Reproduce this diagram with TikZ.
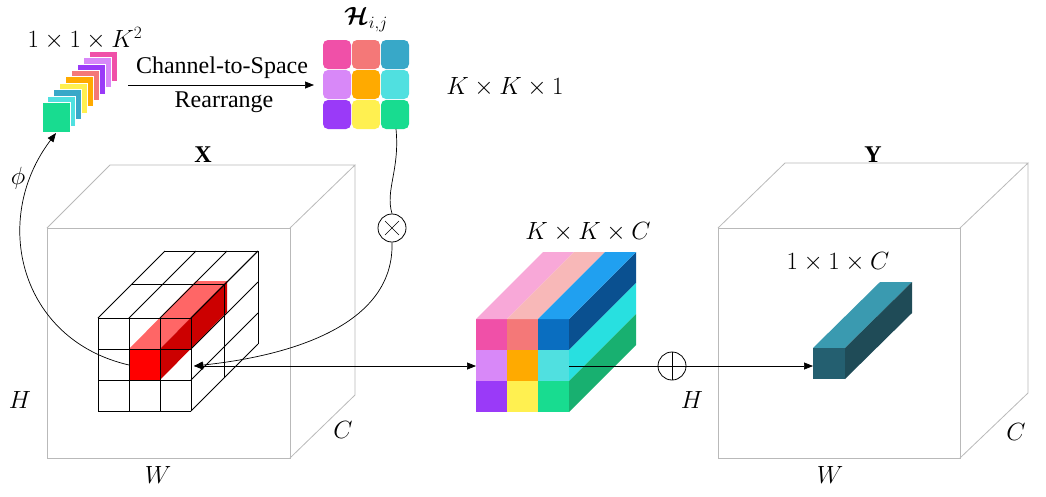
\documentclass[tikz,border=0pt]{standalone}
\usepackage{fontspec}
\setmainfont{Liberation Serif}
\usepackage{amsmath,amssymb,bm}
\usetikzlibrary{arrows.meta,calc}
\begin{document}
\begin{tikzpicture}[x=1pt,y=-1pt,
  cubeline/.style={draw=gray!55,line width=0.8pt},
  gridline/.style={draw=black,line width=0.9pt},
  lbl/.style={font=\fontsize{24}{28}\selectfont,inner sep=0pt},
  conn/.style={draw=black,line width=0.7pt},
  arr/.style={conn,-{Triangle[length=9pt,width=7pt]}},
  op/.style={circle,draw,line width=0.8pt,minimum size=28pt,inner sep=0pt}]
\useasboundingbox (0,0) rectangle (1046,496);
% colours
\definecolor{cpink}{HTML}{F050A8}\definecolor{csalmon}{HTML}{F47878}
\definecolor{cteal}{HTML}{38A8C8}\definecolor{clilac}{HTML}{D888F8}
\definecolor{corange}{HTML}{FFAA00}\definecolor{ccyan}{HTML}{50E0E0}
\definecolor{cpurple}{HTML}{9A3AF8}\definecolor{cyellow}{HTML}{FFF050}
\definecolor{cgreen}{HTML}{18DC90}
\definecolor{kblue}{HTML}{0A6EC0}\definecolor{kside1}{HTML}{0A5090}
\definecolor{kside2}{HTML}{28E0E0}\definecolor{kside3}{HTML}{18B070}
\definecolor{ktop1}{HTML}{F8A8D8}\definecolor{ktop2}{HTML}{F8B8B8}
\definecolor{ktop3}{HTML}{20A0F0}
\definecolor{bfront}{HTML}{245F70}\definecolor{btop}{HTML}{3A9AB0}
\definecolor{bside}{HTML}{1F4B57}
% ---- big cube X
\draw[cubeline] (47,228) rectangle (290,458);
\draw[cubeline] (47,228)--(110,165)--(355,165)--(290,228) (355,165)--(355,395)--(290,458);
\node[lbl] (X) at (203,155) {$\mathbf{X}$};
\node[lbl] at (20,400) {$H$};
\node[lbl] at (158,475) {$W$};
\node[lbl] at (343,430) {$C$};
% ---- big cube Y
\draw[cubeline] (718,228) rectangle (960,458);
\draw[cubeline] (718,228)--(785,163)--(1028,163)--(960,228) (1028,163)--(1028,393)--(960,458);
\node[lbl] (Y) at (873,155) {$\mathbf{Y}$};
\node[lbl] at (692,400) {$H$};
\node[lbl] at (830,475) {$W$};
\node[lbl] at (1016,432) {$C$};
% ---- red bar
\fill[red!60!white] (129,349)--(196,281)--(227,281)--(160,349)--cycle;
\fill[red!80!black] (160,349)--(227,281)--(227,312)--(160,380)--cycle;
\fill[red] (129,349) rectangle (160,380);
% ---- grid
\foreach \i in {0,1,2,3}{
  \draw[gridline] (98+31*\i,318)--(165+31*\i,251);
  \draw[gridline] (191,318+31*\i)--(258,251+31*\i);
  \draw[gridline] (98+31*\i,318)--(98+31*\i,411);
  \draw[gridline] (98,318+31*\i)--(191,318+31*\i);
}
\foreach \d in {1,2}{
  \draw[gridline] (98+33.5*\d,318-33.5*\d)--(191+33.5*\d,318-33.5*\d)--(191+33.5*\d,411-33.5*\d);
}
\coordinate (gx) at (194,366);
% ---- kernel cube
\def\kx{476}\def\ky{319}
\foreach \r/\cola/\colb/\colc/\side in {0/cpink/csalmon/kblue/kside1,1/clilac/corange/ccyan/kside2,2/cpurple/cyellow/cgreen/kside3}{
  \fill[\side] (569,\ky+31*\r)--(636,\ky+31*\r-67)--(636,\ky+31*\r-36)--(569,\ky+31*\r+31)--cycle;
  \fill[\cola] (\kx,\ky+31*\r) rectangle ++(31,31);
  \fill[\colb] (\kx+31,\ky+31*\r) rectangle ++(31,31);
  \fill[\colc] (\kx+62,\ky+31*\r) rectangle ++(31,31);
}
\fill[ktop1] (476,319)--(543,252)--(574,252)--(507,319)--cycle;
\fill[ktop2] (507,319)--(574,252)--(605,252)--(538,319)--cycle;
\fill[ktop3] (538,319)--(605,252)--(636,252)--(569,319)--cycle;
\node[lbl] (kkc) at (588,232) {$K\times K\times C$};
\coordinate (kin) at (476,366);
\coordinate (kout) at (569,366);
% ---- small bar in Y
\fill[btop] (813,348)--(880,282)--(912,282)--(845,348)--cycle;
\fill[bside] (845,348)--(912,282)--(912,313)--(845,379)--cycle;
\fill[bfront] (813,348) rectangle (845,379);
\coordinate (bar) at (813,366);
\node[lbl] at (838,262) {$1\times1\times C$};
% ---- oplus
\node[op] (plus) at (672,366) {};
\draw (plus.north)--(plus.south) (plus.west)--(plus.east);
\draw[conn] (kout)--(plus.west);
\draw[arr] (plus.east)--(bar);
\draw[conn,{Triangle[length=9pt,width=7pt]}-{Triangle[length=9pt,width=7pt]}] (gx)--(kin);
% ---- stack
\foreach \c [count=\n from 0] in {cpink,clilac,cpurple,csalmon,corange,cyellow,cteal,ccyan,cgreen}{
  \fill[\c,draw=white,line width=0.6pt] (89-5.9*\n,51+6.4*\n) rectangle ++(28,30);
}
\coordinate (stk) at (56,133);
\node[lbl] at (85,38) {$1\times1\times K^2$};
% ---- H grid
\foreach \c [count=\n from 0] in {cpink,csalmon,cteal,clilac,corange,ccyan,cpurple,cyellow,cgreen}{
  \pgfmathtruncatemacro{\cc}{mod(\n,3)}\pgfmathtruncatemacro{\rr}{div(\n,3)}
  \fill[\c,rounded corners=5pt] (323+29*\cc,40+30*\rr) rectangle ++(28,29);
}
\node[lbl] (Hij) at (366,20) {$\boldsymbol{\mathcal{H}}_{i,j}$};
\node[lbl] at (505,87) {$K\times K\times 1$};
\coordinate (hb) at (396,129);
\coordinate (stkr) at (128,85);
\coordinate (hl) at (314,85);
\draw[arr] (stkr)--(hl);
\node[lbl] at (222,68) {Channel-to-Space};
\node[lbl] at (224,102) {Rearrange};
% ---- otimes
\node[op] (times) at (392,228) {};
\draw ($(times.center)+(-7,-7)$)--($(times.center)+(7,7)$) ($(times.center)+(-7,7)$)--($(times.center)+(7,-7)$);
\draw[conn] (hb) .. controls (400,170) and (385,190) .. (times.north);
\draw[arr] (times.south) .. controls (395,340) and (250,360) .. (gx);
% ---- phi curve
\coordinate (rs) at (129,365);
\draw[arr] (rs) .. controls (20,340) and (-10,220) .. (stk);
\node[lbl] at (18,178) {$\phi$};
\end{tikzpicture}
\end{document}
